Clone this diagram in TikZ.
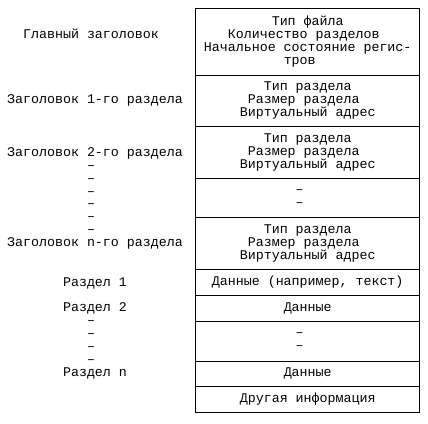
\documentclass[tikz,border=0pt]{standalone}
\usepackage{fontspec}
\setmonofont{Liberation Mono}
\begin{document}
\begin{tikzpicture}[x=1pt,y=-1pt,
  every node/.style={font=\ttfamily\fontsize{13.3}{13.1}\selectfont, inner sep=0pt},
  cell/.style={draw, line width=0.8pt, anchor=north west, minimum width=224pt, align=center},
  lbl/.style={text height=9pt, text depth=3pt, align=center}]
\useasboundingbox (0,0) rectangle (428,423);
\node[cell, minimum height=66.2pt] (b1) at (195.3,8.3) {Тип файла\\Количество разделов\hphantom{x}\\Начальное состояние регис-\\тров\hphantom{xx}};
\node[cell, minimum height=51.5pt] (b2) at (195.3,74.5) {Тип раздела\\Размер раздела\hphantom{x}\\Виртуальный адрес};
\node[cell, minimum height=52.3pt] (b3) at (195.3,126) {Тип раздела\\Размер раздела\hphantom{x}\\Виртуальный адрес};
\node[cell, minimum height=38.7pt] (b4) at (195.3,178.3) {–\hphantom{xx}\\–\hphantom{xx}};
\node[cell, minimum height=52.3pt] (b5) at (195.3,217) {Тип раздела\\Размер раздела\hphantom{x}\\Виртуальный адрес};
\node[cell, minimum height=25.7pt] (b6) at (195.3,269.3) {Данные (например, текст)};
\node[cell, minimum height=26pt] (b7) at (195.3,295) {Данные};
\node[cell, minimum height=39.5pt] (b8) at (195.3,321) {–\hphantom{xx}\\–\hphantom{xx}};
\node[cell, minimum height=25.5pt] (b9) at (195.3,360.5) {Данные};
\node[cell, minimum height=26pt] (b10) at (195.3,386) {Другая информация};
% left labels
\node[lbl] (l1) at (95,35.5) {Главный заголовок\hphantom{x}};
\node[lbl] (l2) at (95,100.5) {Заголовок 1-го раздела};
\node[lbl] (l3) at (95,153) {Заголовок 2-го раздела};
\node[lbl] (d1) at (95,166) {–\hphantom{x}};
\node[lbl] (d2) at (95,179) {–\hphantom{x}};
\node[lbl] (d3) at (95,192) {–\hphantom{x}};
\node[lbl] (d4) at (95,204.5) {–\hphantom{x}};
\node[lbl] (d5) at (95,217.5) {–\hphantom{x}};
\node[lbl] (d6) at (95,230.5) {–\hphantom{x}};
\node[lbl] (l4) at (95,243.5) {Заголовок n-го раздела};
\node[lbl] (l5) at (95,283) {Раздел 1};
\node[lbl] (l6) at (95,308.5) {Раздел 2};
\node[lbl] (d7) at (95,321) {–\hphantom{x}};
\node[lbl] (d8) at (95,334) {–\hphantom{x}};
\node[lbl] (d9) at (95,347) {–\hphantom{x}};
\node[lbl] (d10) at (95,360) {–\hphantom{x}};
\node[lbl] (l7) at (95,373.5) {Раздел n};
\end{tikzpicture}
\end{document}
